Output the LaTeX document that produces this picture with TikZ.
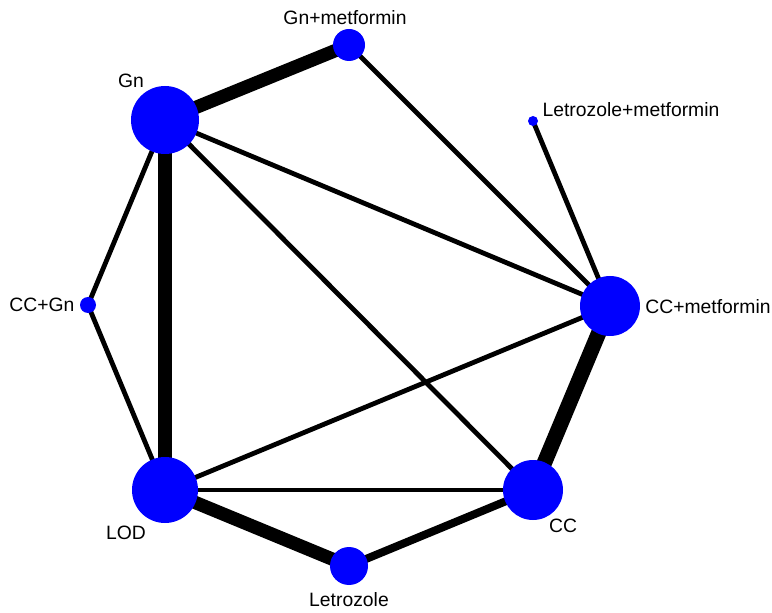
\documentclass[tikz,border=0pt]{standalone}
\usepackage{fontspec}
\setmainfont{Liberation Sans}
\usetikzlibrary{backgrounds}
\begin{document}
\begin{tikzpicture}[x=0.75pt,y=-0.75pt,
	trt/.style={circle, fill=blue, inner sep=0pt},
	lbl/.style={font=\fontsize{14.5}{17}\selectfont},
	lnk/.style={line width=3.6pt},
	lnkmid/.style={line width=6pt},
	lnkbig/.style={line width=10pt},
	lnkmax/.style={line width=11.5pt}]
	\useasboundingbox (0,0) rectangle (772,613);
	% treatments
	\node[trt, minimum size=32pt*0.75] (gnm) at (349,45) {};
	\node[trt, minimum size=68pt*0.75] (gn) at (165,120) {};
	\node[trt, minimum size=10pt*0.75] (lzm) at (533,121) {};
	\node[trt, minimum size=16pt*0.75] (ccgn) at (88,305) {};
	\node[trt, minimum size=60pt*0.75] (ccm) at (610,306) {};
	\node[trt, minimum size=66pt*0.75] (lod) at (165,490) {};
	\node[trt, minimum size=60pt*0.75] (cc) at (533,490) {};
	\node[trt, minimum size=38pt*0.75] (lz) at (349,566) {};
	% labels
	\node[lbl] (gnmlbl) at (345,18) {Gn+metformin};
	\node[lbl] (gnlbl) at (131,81) {Gn};
	\node[lbl] (lzmlbl) at (631,110) {Letrozole+metformin};
	\node[lbl] (ccgnlbl) at (42,305) {CC+Gn};
	\node[lbl] (ccmlbl) at (708,307) {CC+metformin};
	\node[lbl] (lodlbl) at (126,533) {LOD};
	\node[lbl] (cclbl) at (563,526) {CC};
	\node[lbl] (lzlbl) at (349,600) {Letrozole};
	% comparisons
	\begin{scope}[on background layer]
		\draw[lnkbig] (gn.center) -- (gnm.center);
		\draw[lnkbig] (gn.center) -- (lod.center);
		\draw[lnk] (gn.center) -- (ccgn.center);
		\draw[lnk] (gn.center) -- (ccm.center);
		\draw[lnk] (gn.center) -- (cc.center);
		\draw[lnk] (gnm.center) -- (ccm.center);
		\draw[lnk] (lzm.center) -- (ccm.center);
		\draw[lnk] (ccgn.center) -- (lod.center);
		\draw[lnk] (lod.center) -- (ccm.center);
		\draw[lnk] (lod.center) -- (cc.center);
		\draw[lnkbig] (lod.center) -- (lz.center);
		\draw[lnkmid] (lz.center) -- (cc.center);
		\draw[lnkmax] (cc.center) -- (ccm.center);
	\end{scope}
\end{tikzpicture}
\end{document}
